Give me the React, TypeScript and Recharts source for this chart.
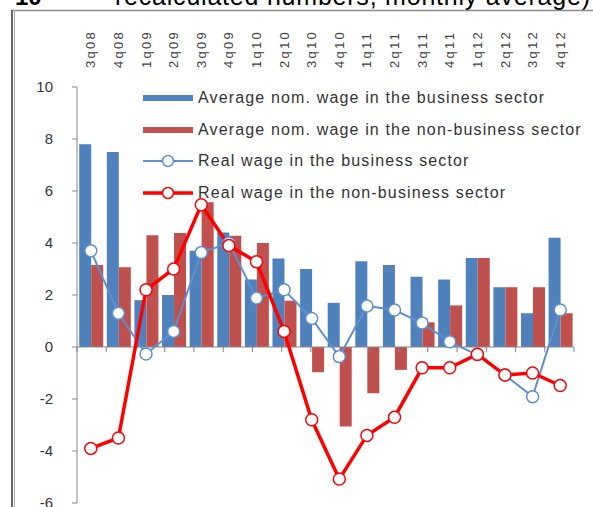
import {
  ComposedChart,
  Bar,
  Line,
  XAxis,
  YAxis,
  ReferenceLine,
  Legend,
} from "recharts";

const quarters = [
  "3q08", "4q08", "1q09", "2q09", "3q09", "4q09", "1q10", "2q10", "3q10",
  "4q10", "1q11", "2q11", "3q11", "4q11", "1q12", "2q12", "3q12", "4q12",
];
const nomBusiness = [
  7.8, 7.5, 1.8, 2.0, 3.7, 4.4, 2.6, 3.4, 3.0,
  1.7, 3.3, 3.15, 2.7, 2.6, 3.42, 2.3, 1.3, 4.2,
];
const nomNonBusiness = [
  3.15, 3.07, 4.3, 4.38, 5.57, 4.28, 4.0, 1.78, -0.97,
  -3.06, -1.78, -0.88, 0.95, 1.6, 3.42, 2.3, 2.3, 1.3,
];
const realBusiness = [
  3.7, 1.3, -0.27, 0.6, 3.63, 4.0, 1.88, 2.2, 1.1,
  -0.37, 1.58, 1.42, 0.92, 0.2, -0.3, -1.08, -1.91, 1.42,
];
const realNonBusiness = [
  -3.9, -3.5, 2.2, 3.0, 5.47, 3.9, 3.28, 0.6, -2.8,
  -5.08, -3.4, -2.7, -0.8, -0.8, -0.28, -1.08, -1.0, -1.48,
];
const yTicks = [-6, -4, -2, 0, 2, 4, 6, 8, 10];

const BLUE_BAR = "#4F81BD";
const RED_BAR = "#C0504D";
const BLUE_LINE = "#5E8FD0";
const RED_LINE = "#FF0000";
const AXIS = "#868686";
const FONT = "Arial, 'Liberation Sans', sans-serif";

const data = quarters.map((q, i) => ({
  q,
  nomB: nomBusiness[i],
  nomN: nomNonBusiness[i],
  realB: realBusiness[i],
  realN: realNonBusiness[i],
}));

const legendItems = [
  { label: "Average nom. wage in the business sector", kind: "bar", color: BLUE_BAR },
  { label: "Average nom. wage in the non-business sector", kind: "bar", color: RED_BAR },
  { label: "Real wage in the business sector", kind: "line", color: BLUE_LINE },
  { label: "Real wage in the non-business sector", kind: "line", color: RED_LINE },
];

function QuarterTick(props: any) {
  const { x, y, payload } = props;
  return (
    <text
      x={x}
      y={y}
      dy="0.35em"
      transform={`rotate(-90 ${x} ${y})`}
      textAnchor="start"
      fontSize={13}
      letterSpacing={2.3}
      fontFamily={FONT}
      fill="#404040"
    >
      {payload.value}
    </text>
  );
}

function WageLegend() {
  return (
    <div style={{ fontFamily: FONT }}>
      {legendItems.map((it) => (
        <div
          key={it.label}
          style={{ display: "flex", alignItems: "center", height: 31.7 }}
        >
          <svg width={52} height={14}>
            {it.kind === "bar" ? (
              <rect x={0} y={4} width={50} height={6} fill={it.color} />
            ) : (
              <>
                <line
                  x1={0}
                  y1={7}
                  x2={50}
                  y2={7}
                  stroke={it.color}
                  strokeWidth={it.color === RED_LINE ? 3.5 : 2}
                />
                <circle cx={25} cy={7} r={5.5} fill="#fff" stroke={it.color} strokeWidth={1.5} />
              </>
            )}
          </svg>
          <span
            style={{
              fontSize: 16,
              letterSpacing: 1.15,
              color: "#333",
              marginLeft: 3,
              whiteSpace: "nowrap",
            }}
          >
            {it.label}
          </span>
        </div>
      ))}
    </div>
  );
}

export default function App() {
  const boundaries = Array.from({ length: quarters.length + 1 }, (_, i) => i);

  return (
    <div
      style={{
        position: "fixed",
        left: 0,
        top: 0,
        width: 593,
        height: 507,
        overflow: "hidden",
        background: "#fff",
      }}
    >
      {/* frame + cut-off heading */}
      <svg width={593} height={507} style={{ position: "absolute", left: 0, top: 0 }}>
        <text x={15} y={5} fontSize={24} fontWeight="bold" fontFamily={FONT} fill="#000">
          10
        </text>
        <text
          x={115}
          y={5}
          fontSize={25}
          textLength={475}
          lengthAdjust="spacing"
          fontFamily={FONT}
          fill="#000"
        >
          recalculated numbers, monthly average)
        </text>
        <line x1={11} y1={10.5} x2={593} y2={10.5} stroke="#8a8a8a" strokeWidth={1.5} />
        <line x1={12} y1={10} x2={12} y2={507} stroke="#666" strokeWidth={2} />
        <line x1={14.5} y1={10} x2={14.5} y2={507} stroke="#aaa" strokeWidth={1} />
      </svg>

      <div style={{ position: "absolute", left: 0, top: 0 }}>
        <ComposedChart
          width={593}
          height={540}
          data={data}
          margin={{ top: 10, right: 19, bottom: 37, left: 0 }}
          barCategoryGap="8%"
          barGap={0}
        >
          <XAxis
            xAxisId="cat"
            dataKey="q"
            orientation="top"
            height={77}
            axisLine={false}
            tickLine={false}
            tickSize={0}
            tickMargin={19}
            interval={0}
            tick={<QuarterTick />}
          />
          <XAxis xAxisId="num" type="number" domain={[0, quarters.length]} hide />
          <YAxis
            width={77}
            domain={[-6, 10]}
            ticks={yTicks}
            allowDataOverflow
            axisLine={{ stroke: AXIS }}
            tickLine={{ stroke: AXIS }}
            tickSize={5}
            tickMargin={19}
            tick={{ fontSize: 15, fill: "#333", fontFamily: FONT }}
          />
          <Legend
            layout="horizontal"
            verticalAlign="middle"
            align="center"
            content={<WageLegend />}
            wrapperStyle={{ position: "absolute", left: 143, top: 82, width: 450 }}
          />
          <Bar xAxisId="cat" dataKey="nomB" fill={BLUE_BAR} isAnimationActive={false} />
          <Bar xAxisId="cat" dataKey="nomN" fill={RED_BAR} isAnimationActive={false} />
          <ReferenceLine xAxisId="num" y={0} stroke={AXIS} />
          {boundaries.map((b) => (
            <ReferenceLine
              key={b}
              xAxisId="num"
              segment={[{ x: b, y: 0 }, { x: b, y: -0.2 }]}
              stroke={AXIS}
            />
          ))}
          <Line
            xAxisId="cat"
            dataKey="realB"
            stroke={BLUE_LINE}
            strokeWidth={2}
            dot={{ r: 6, fill: "#fff", stroke: BLUE_LINE, strokeWidth: 1.5 }}
            isAnimationActive={false}
          />
          <Line
            xAxisId="cat"
            dataKey="realN"
            stroke={RED_LINE}
            strokeWidth={3.5}
            dot={{ r: 6, fill: "#fff", stroke: RED_LINE, strokeWidth: 1.5 }}
            isAnimationActive={false}
          />
        </ComposedChart>
      </div>
    </div>
  );
}
